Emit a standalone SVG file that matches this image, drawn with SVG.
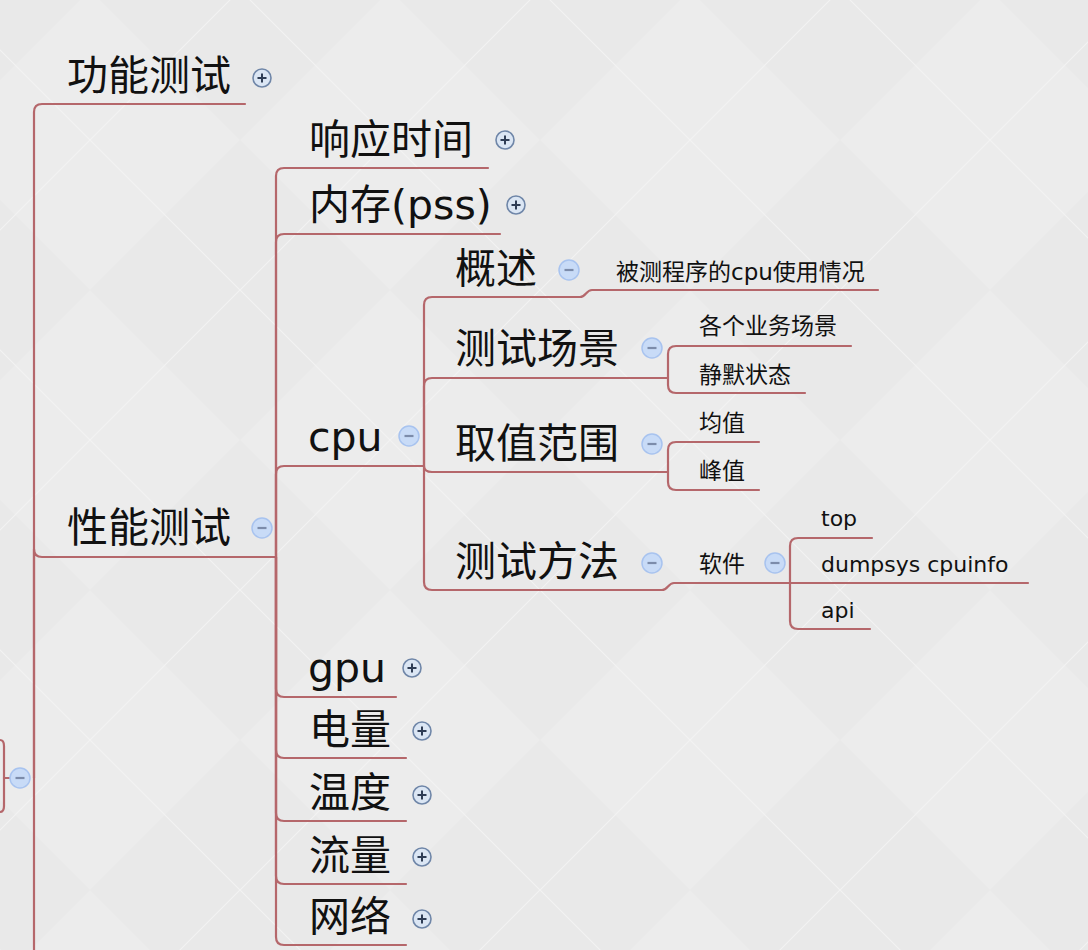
<svg xmlns="http://www.w3.org/2000/svg" width="1088" height="950" viewBox="0 0 1088 950">
<defs>
<pattern id="bg" width="300" height="300" patternUnits="userSpaceOnUse" x="-60" y="-10">
<rect width="300" height="300" fill="#e9e9e9"/>
<path d="M0,150 L150,0 L300,150 L150,300 Z" fill="#ececec"/>
<path d="M0,0 L300,300 M300,0 L0,300" stroke="#f3f3f3" stroke-width="1.2" fill="none"/>
</pattern>
<g id="plus"><circle r="9" fill="#dbe6f4" stroke="#6f86a8" stroke-width="1.6"/><path d="M-4.5,0 H4.5 M0,-4.5 V4.5" stroke="#2f3d55" stroke-width="2"/></g>
<g id="minus"><circle r="10" fill="#c8dbf7" stroke="#a8c3ef" stroke-width="1.5"/><path d="M-4.5,0 H4.5" stroke="#7c8cab" stroke-width="2.2"/></g>
</defs>
<style>
.l{fill:none;stroke:#b5676b;stroke-width:2.2;stroke-linecap:round}
.t1{font-family:"DejaVu Sans","Noto Sans CJK SC",sans-serif;font-size:41px;fill:#111}
.t2{font-family:"DejaVu Sans","Noto Sans CJK SC",sans-serif;font-size:23px;fill:#111}
.t3{font-family:"DejaVu Sans","Noto Sans CJK SC",sans-serif;font-size:22px;fill:#111}
</style>
<rect width="1088" height="950" fill="url(#bg)"/>
<g id="connectors">
<path class="l" d="M0,740 Q4,740 4,746 V806 Q4,812 0,812"/>
<path class="l" d="M4,778 H10"/>
<path class="l" d="M34,778 V112 Q34,104 42,104 H245"/>
<path class="l" d="M34,778 V549 Q34,557 42,557 H276"/>
<path class="l" d="M34,778 V952"/>
<path class="l" d="M276,557 V176 Q276,168 284,168 H488"/>
<path class="l" d="M276,557 V242 Q276,234 284,234 H500"/>
<path class="l" d="M276,557 V474 Q276,466 284,466 H424"/>
<path class="l" d="M276,557 V689 Q276,697 284,697 H396"/>
<path class="l" d="M276,557 V750 Q276,758 284,758 H406"/>
<path class="l" d="M276,557 V813 Q276,821 284,821 H406"/>
<path class="l" d="M276,557 V876 Q276,884 284,884 H406"/>
<path class="l" d="M276,557 V937 Q276,945 284,945 H406"/>
<path class="l" d="M424,466 V305 Q424,297 432,297 H580 C586,297 586,290 592,290 H878"/>
<path class="l" d="M424,466 V386 Q424,378 432,378 H668"/>
<path class="l" d="M424,466 Q424,472 432,472 H668"/>
<path class="l" d="M424,466 V582 Q424,590 432,590 H662 C668,590 668,583 674,583 H790"/>
<path class="l" d="M668,378 V354 Q668,346 676,346 H851"/>
<path class="l" d="M668,378 V385 Q668,393 676,393 H805"/>
<path class="l" d="M668,472 V450 Q668,442 676,442 H759"/>
<path class="l" d="M668,472 V482 Q668,490 676,490 H759"/>
<path class="l" d="M790,583 V546 Q790,538 798,538 H872"/>
<path class="l" d="M790,583 H1028"/>
<path class="l" d="M790,583 V621 Q790,629 798,629 H870"/>
</g>
<g id="root"><use href="#minus" x="20" y="778"/></g>
<g id="n-gongneng"><text class="t1" x="67" y="90">功能测试</text><use href="#plus" x="262" y="78"/></g>
<g id="n-xingneng"><text class="t1" x="67" y="542">性能测试</text><use href="#minus" x="262" y="528"/></g>
<g id="n-xiangying"><text class="t1" x="309" y="154">响应时间</text><use href="#plus" x="505" y="140"/></g>
<g id="n-neicun"><text class="t1" x="309" y="219">内存(pss)</text><use href="#plus" x="516" y="205"/></g>
<g id="n-cpu"><text class="t1" x="308" y="451">cpu</text><use href="#minus" x="409" y="436"/></g>
<g id="n-gpu"><text class="t1" x="308" y="682">gpu</text><use href="#plus" x="412" y="668"/></g>
<g id="n-dianliang"><text class="t1" x="309" y="744">电量</text><use href="#plus" x="422" y="731"/></g>
<g id="n-wendu"><text class="t1" x="309" y="807">温度</text><use href="#plus" x="422" y="795"/></g>
<g id="n-liuliang"><text class="t1" x="309" y="870">流量</text><use href="#plus" x="422" y="857"/></g>
<g id="n-wangluo"><text class="t1" x="309" y="931">网络</text><use href="#plus" x="422" y="919"/></g>
<g id="n-gaishu"><text class="t1" x="455" y="283">概述</text><use href="#minus" x="569" y="270"/></g>
<g id="n-changjing"><text class="t1" x="455" y="363">测试场景</text><use href="#minus" x="652" y="348"/></g>
<g id="n-quzhi"><text class="t1" x="455" y="458">取值范围</text><use href="#minus" x="652" y="444"/></g>
<g id="n-fangfa"><text class="t1" x="455" y="576">测试方法</text><use href="#minus" x="652" y="563"/></g>
<g id="n-beice"><text class="t2" x="616" y="280">被测程序的cpu使用情况</text></g>
<g id="n-gegeyewu"><text class="t2" x="699" y="334">各个业务场景</text></g>
<g id="n-jingmo"><text class="t2" x="699" y="383">静默状态</text></g>
<g id="n-junzhi"><text class="t2" x="699" y="431">均值</text></g>
<g id="n-fengzhi"><text class="t2" x="699" y="479">峰值</text></g>
<g id="n-ruanjian"><text class="t2" x="699" y="572">软件</text><use href="#minus" x="775" y="563"/></g>
<g id="n-top"><text class="t3" x="821" y="526">top</text></g>
<g id="n-dumpsys"><text class="t3" x="821" y="572">dumpsys cpuinfo</text></g>
<g id="n-api"><text class="t3" x="821" y="618">api</text></g>
</svg>
